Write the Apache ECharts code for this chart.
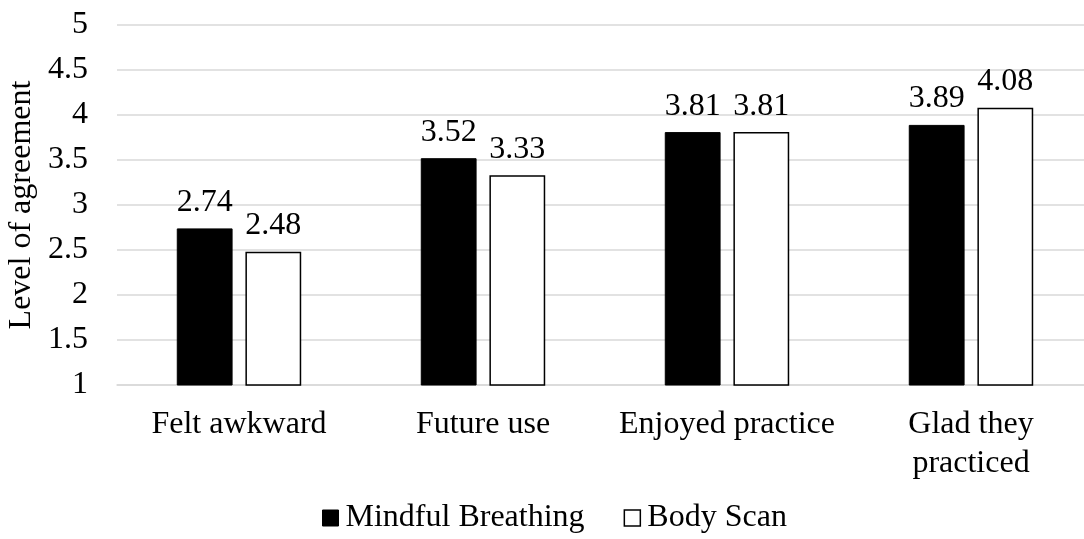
<!DOCTYPE html>
<html><head><meta charset="utf-8">
<script src="https://cdn.jsdelivr.net/npm/echarts@6/dist/echarts.min.js"></script>
<style>html,body{margin:0;padding:0;background:#fff}#c{width:1084px;height:539px}</style>
</head><body><div id="c"></div>
<script>
var categories = ['Felt awkward', 'Future use', 'Enjoyed practice', 'Glad they\npracticed'];
var mindfulBreathing = [2.74, 3.52, 3.81, 3.89];
var bodyScan = [2.48, 3.33, 3.81, 4.08];
var seriesNames = ['Mindful Breathing', 'Body Scan'];
var yTicks = {min: 1, max: 5, interval: 0.5};

var font = 'Liberation Serif';
var fs = 32;
var chart = echarts.init(document.getElementById('c'));
chart.setOption({
  animation: false,
  textStyle: {fontFamily: font},
  grid: {left: 117, right: -9, top: 25, bottom: 154, containLabel: false, outerBoundsMode: 'none'},
  legend: {
    top: 502, left: 322, padding: 0,
    itemWidth: 16, itemHeight: 16, itemGap: 39,
    textStyle: {fontFamily: font, fontSize: fs, color: '#000', padding: [0, 0, 0, 2]},
    data: [
      {name: seriesNames[0], icon: 'rect', itemStyle: {color: '#000', borderColor: '#000', borderWidth: 1}},
      {name: seriesNames[1], icon: 'rect', itemStyle: {color: '#fff', borderColor: '#000', borderWidth: 1.5}}
    ]
  },
  xAxis: {
    type: 'category', data: categories,
    axisLine: {lineStyle: {color: '#d9d9d9', width: 1.5}},
    axisTick: {show: false},
    axisLabel: {interval: 0, fontFamily: font, fontSize: fs, color: '#000', margin: 20, lineHeight: 39}
  },
  yAxis: {
    type: 'value', min: yTicks.min, max: yTicks.max, interval: yTicks.interval,
    name: 'Level of agreement', nameLocation: 'middle', nameGap: 79, nameRotate: 90,
    nameTextStyle: {fontFamily: font, fontSize: fs, color: '#000'},
    axisLine: {show: false}, axisTick: {show: false},
    axisLabel: {fontFamily: font, fontSize: fs, color: '#000', margin: 29},
    splitLine: {lineStyle: {color: '#d9d9d9', width: 1.5}}
  },
  series: [
    {name: seriesNames[0], type: 'bar', data: mindfulBreathing, barGap: '23%', barCategoryGap: '49%',
     itemStyle: {color: '#000', borderColor: '#000', borderWidth: 1},
     label: {show: true, position: 'top', distance: 10, fontFamily: font, fontSize: fs, color: '#000'}},
    {name: seriesNames[1], type: 'bar', data: bodyScan, barGap: '23%', barCategoryGap: '49%',
     itemStyle: {color: '#fff', borderColor: '#000', borderWidth: 1.5},
     label: {show: true, position: 'top', distance: 10, fontFamily: font, fontSize: fs, color: '#000'}}
  ]
});
</script></body></html>
